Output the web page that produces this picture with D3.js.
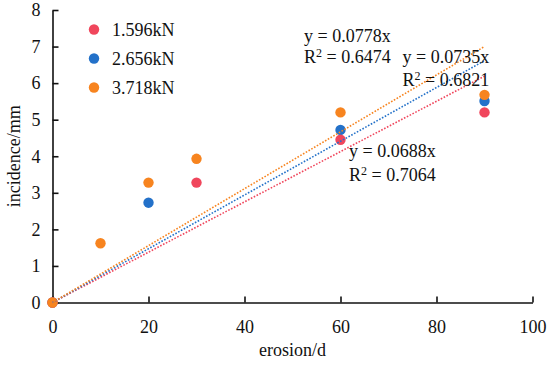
<!DOCTYPE html>
<html><head><meta charset="utf-8">
<script src="https://cdn.jsdelivr.net/npm/d3@7"></script>
<style>body{margin:0;background:#fff}</style>
</head><body>
<svg id="c" width="550" height="365"></svg>
<script>
const xTicks = [0, 20, 40, 60, 80, 100];
const yTicks = [0, 1, 2, 3, 4, 5, 6, 7, 8];
const seriesNames = ["1.596kN", "2.656kN", "3.718kN"];
const seriesColors = ["#F0465C", "#2371C9", "#F7841F"];
const xRed = [0, 30, 60, 90];
const yRed = [0, 3.28, 4.45, 5.2];
const xBlue = [0, 20, 60, 90];
const yBlue = [0, 2.73, 4.72, 5.51];
const xOrange = [0, 10, 20, 30, 60, 90];
const yOrange = [0, 1.62, 3.28, 3.93, 5.2, 5.68];
const slopes = [0.0688, 0.0735, 0.0778];
const r2 = ["0.7064", "0.6821", "0.6474"];
const xTitle = "erosion/d";
const yTitle = "incidence/mm";

const svg = d3.select("#c");
const font = "'Liberation Serif','Times New Roman',serif";
const x = d3.scaleLinear().domain([0, 100]).range([52.5, 532.5]);
const y = d3.scaleLinear().domain([0, 8]).range([302.5, 10]);

// axes
const gx = svg.append("g").attr("transform", `translate(0,${y(0)})`)
  .call(d3.axisBottom(x).tickValues(xTicks).tickSizeInner(-6).tickSizeOuter(0).tickPadding(18));
const gy = svg.append("g").attr("transform", `translate(${x(0)},0)`)
  .call(d3.axisLeft(y).tickValues(yTicks).tickSizeInner(-6).tickSizeOuter(0).tickPadding(12));
[gx, gy].forEach(g => {
  g.select(".domain").attr("stroke", "#111").attr("stroke-width", 1.6);
  g.selectAll(".tick line").attr("stroke", "#111").attr("stroke-width", 1.6);
  g.selectAll(".tick text").attr("font-family", font).attr("font-size", 18).attr("fill", "#111");
});
gx.selectAll(".tick text").attr("dy", "0.71em");

svg.append("text").attr("x", x(50)).attr("y", 356).attr("text-anchor", "middle")
  .attr("font-family", font).attr("font-size", 18).attr("fill", "#111").text(xTitle);
svg.append("text").attr("transform", `translate(20,${y(4)}) rotate(-90)`).attr("text-anchor", "middle")
  .attr("font-family", font).attr("font-size", 18).attr("fill", "#111").text(yTitle);

// points (draw order: blue, red, orange)
const sets = [
  {xs: xBlue, ys: yBlue, c: seriesColors[1]},
  {xs: xRed, ys: yRed, c: seriesColors[0]},
  {xs: xOrange, ys: yOrange, c: seriesColors[2]}
];
sets.forEach(s => {
  svg.append("g").selectAll("circle").data(s.xs.map((v, i) => [v, s.ys[i]])).join("circle")
    .attr("cx", d => x(d[0])).attr("cy", d => y(d[1])).attr("r", 5.2).attr("fill", s.c);
});

// trendlines
slopes.forEach((k, i) => {
  svg.append("line").attr("x1", x(0)).attr("y1", y(0)).attr("x2", x(90)).attr("y2", y(k * 90))
    .attr("stroke", seriesColors[i]).attr("stroke-width", 1.6).attr("stroke-dasharray", "1.6,1.6");
});

// equation labels
const eqPos = [[349, 157, 181], [402.5, 63, 86], [304, 42, 63]];
slopes.forEach((k, i) => {
  const [ex, ey1, ey2] = eqPos[i];
  svg.append("text").attr("x", ex).attr("y", ey1).attr("font-family", font).attr("font-size", 18)
    .attr("fill", "#111").text(`y = ${k}x`);
  const t = svg.append("text").attr("x", ex).attr("y", ey2).attr("font-family", font).attr("font-size", 18).attr("fill", "#111");
  t.append("tspan").text("R");
  t.append("tspan").attr("dy", -6).attr("font-size", 12).text("2");
  t.append("tspan").attr("dy", 6).text(` = ${r2[i]}`);
});

// legend
seriesNames.forEach((n, i) => {
  const ly = 29.5 + i * 29;
  svg.append("circle").attr("cx", 94).attr("cy", ly).attr("r", 5.2).attr("fill", seriesColors[i]);
  svg.append("text").attr("x", 112).attr("y", ly + 6.5).attr("font-family", font).attr("font-size", 18)
    .attr("fill", "#111").text(n);
});
</script>
</body></html>
